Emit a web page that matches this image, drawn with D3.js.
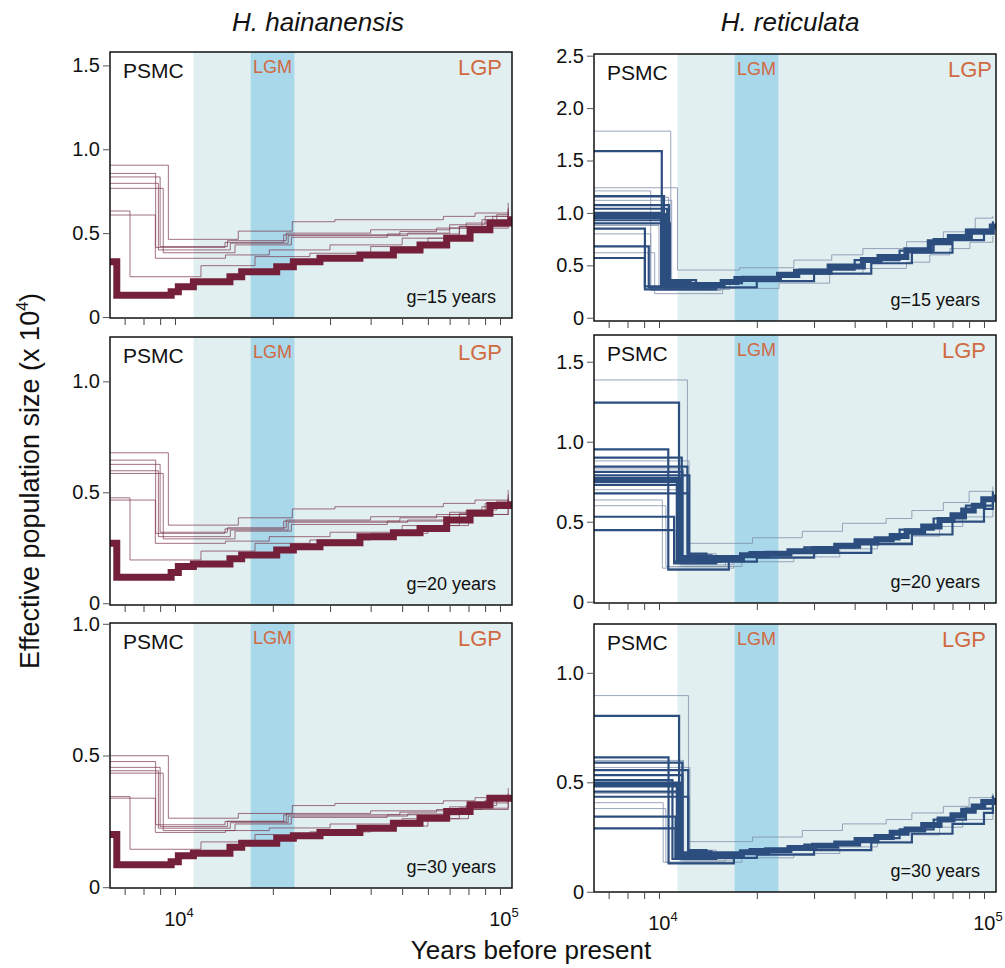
<!DOCTYPE html>
<html>
<head>
<meta charset="utf-8">
<script src="https://cdnjs.cloudflare.com/ajax/libs/d3/7.8.5/d3.min.js"></script>
<style>
  body { margin: 0; background: #fff; }
  svg text { font-family: "Liberation Sans", Arial, Helvetica, sans-serif; }
</style>
</head>
<body>
<svg id="chart" width="1005" height="968"></svg>
<script>
// ---- data (years before present, Ne in units of 10^4) ----
var speciesNames = ["H. hainanensis", "H. reticulata"];
var genTimes = [15, 20, 30];
var xTickYears = [7000, 8000, 9000, 10000, 20000, 30000, 40000, 50000, 60000, 70000, 80000, 90000, 100000];
var lgpStart = 11400, lgmStart = 17100, lgmEnd = 23300;

// H. hainanensis: main (overlapping) bundle
var hainBundleYears = [6300, 6620, 9730, 10240, 11390, 14760, 16040, 20560, 23130, 27930, 37070, 46990, 56750, 68550, 80900, 93100, 108000];
var hainBundle15 = [0.33, 0.13, 0.15, 0.18, 0.21, 0.24, 0.27, 0.30, 0.33, 0.35, 0.37, 0.40, 0.43, 0.47, 0.52, 0.56, 0.60];
var hainBundle20 = [0.27, 0.117, 0.138, 0.165, 0.177, 0.20, 0.217, 0.24, 0.255, 0.273, 0.30, 0.318, 0.337, 0.375, 0.405, 0.44, 0.46];
var hainBundle30 = [0.20, 0.085, 0.097, 0.119, 0.129, 0.152, 0.167, 0.186, 0.195, 0.208, 0.224, 0.243, 0.262, 0.287, 0.313, 0.338, 0.35];

// H. hainanensis: bootstrap lines that leave the bundle
var hainBootYears = [
  [6250, 9540, 15660, 22960, 31040, 66950, 83800, 106000],
  [6250, 8720, 14250, 21600, 49200, 63800, 78700, 97700, 106000],
  [6250, 8890, 14800, 22300, 52000, 70000, 88000, 106000],
  [6250, 9200, 15300, 22800, 45000, 75000, 95000, 106000],
  [6250, 7270, 12020, 17630, 26000, 40000, 60000, 80000, 106000],
  [6250, 8700, 14300, 19500, 30000, 50000, 75000, 106000],
  [6250, 9000, 14500, 22000, 40000, 70000, 90000, 106000]
];
var hainBoot15 = [
  [0.905, 0.463, 0.512, 0.568, 0.58, 0.60, 0.62, 0.68],
  [0.856, 0.415, 0.445, 0.49, 0.51, 0.53, 0.56, 0.61, 0.64],
  [0.797, 0.40, 0.44, 0.485, 0.50, 0.53, 0.58, 0.63],
  [0.767, 0.383, 0.43, 0.475, 0.495, 0.54, 0.60, 0.62],
  [0.632, 0.24, 0.306, 0.36, 0.38, 0.42, 0.47, 0.53, 0.60],
  [0.608, 0.35, 0.37, 0.40, 0.43, 0.47, 0.54, 0.62],
  [0.835, 0.42, 0.455, 0.50, 0.52, 0.55, 0.60, 0.65]
];
var hainBoot20 = [
  [0.678, 0.352, 0.385, 0.425, 0.435, 0.45, 0.465, 0.51],
  [0.645, 0.315, 0.335, 0.37, 0.385, 0.40, 0.42, 0.46, 0.48],
  [0.597, 0.30, 0.33, 0.365, 0.375, 0.40, 0.435, 0.47],
  [0.585, 0.29, 0.325, 0.355, 0.37, 0.405, 0.45, 0.465],
  [0.475, 0.195, 0.235, 0.27, 0.285, 0.315, 0.35, 0.40, 0.45],
  [0.465, 0.27, 0.28, 0.30, 0.32, 0.35, 0.40, 0.46],
  [0.626, 0.32, 0.34, 0.375, 0.39, 0.41, 0.45, 0.49]
];
var hainBoot30 = [
  [0.499, 0.262, 0.28, 0.31, 0.318, 0.328, 0.34, 0.376],
  [0.477, 0.237, 0.25, 0.275, 0.285, 0.295, 0.31, 0.335, 0.352],
  [0.442, 0.224, 0.245, 0.27, 0.278, 0.295, 0.32, 0.348],
  [0.433, 0.215, 0.24, 0.265, 0.275, 0.30, 0.33, 0.345],
  [0.344, 0.144, 0.172, 0.20, 0.21, 0.232, 0.26, 0.295, 0.335],
  [0.338, 0.208, 0.215, 0.225, 0.24, 0.26, 0.30, 0.345],
  [0.455, 0.23, 0.25, 0.28, 0.29, 0.305, 0.33, 0.355]
];

// H. reticulata: main bundle
var retiBundleYears15 = [6200, 10400, 15700, 17300, 23400, 26400, 33500, 42400, 47700, 57700, 68100, 78500, 90500, 105700, 108500];
var retiBundle15 = [0.97, 0.31, 0.34, 0.37, 0.41, 0.44, 0.49, 0.55, 0.58, 0.645, 0.72, 0.77, 0.82, 0.87, 0.90];
var retiBundleYears20 = [6200, 11500, 18000, 21500, 25200, 30000, 35100, 41000, 46700, 52000, 57800, 65000, 73000, 80000, 86300, 93000, 99500, 108500];
var retiBundle20 = [0.76, 0.265, 0.29, 0.30, 0.315, 0.33, 0.35, 0.37, 0.39, 0.41, 0.44, 0.47, 0.51, 0.54, 0.57, 0.60, 0.64, 0.67];
var retiBundleYears30 = [6200, 11500, 18000, 21500, 25200, 30000, 35100, 41000, 46700, 52000, 57800, 65000, 73000, 80000, 86300, 93000, 99500, 108500];
var retiBundle30 = [0.49, 0.165, 0.18, 0.19, 0.20, 0.21, 0.22, 0.235, 0.25, 0.27, 0.285, 0.305, 0.33, 0.35, 0.37, 0.39, 0.41, 0.43];

// H. reticulata: strong bootstrap lines ([year, Ne] steps)
var retiMain15 = [
  [[6200, 1.59], [10200, 0.30], [12500, 0.31]],
  [[6200, 1.16], [10360, 0.33], [11500, 0.31]],
  [[6200, 1.075], [10730, 0.32], [12000, 0.31]],
  [[6200, 1.04], [10600, 0.34], [12500, 0.31]],
  [[6200, 1.0], [10150, 0.30], [12000, 0.31]],
  [[6200, 0.93], [10300, 0.31], [12000, 0.31]],
  [[6200, 0.90], [10800, 0.36], [13000, 0.31]],
  [[6200, 0.85], [9050, 0.30], [13500, 0.31]],
  [[6200, 0.68], [9300, 0.29], [14000, 0.31]],
  [[6200, 0.57], [9050, 0.27], [15000, 0.31]],
  [[12000, 0.29], [20000, 0.35], [30000, 0.42], [45000, 0.52], [60000, 0.62], [80000, 0.74], [100000, 0.82], [106500, 0.85]],
  [[12000, 0.33], [18000, 0.39], [27000, 0.46], [40000, 0.55], [55000, 0.64], [70000, 0.75], [88000, 0.84], [106500, 0.92]]
];
var retiFaint15 = [
  [[6200, 1.78], [10870, 0.27], [16500, 0.34]],
  [[6200, 1.21], [9430, 0.26], [15500, 0.34]],
  [[6200, 1.15], [10700, 0.30], [14000, 0.32]],
  [[6200, 1.12], [10940, 0.35], [13000, 0.32]],
  [[6200, 0.80], [9430, 0.28], [14500, 0.31]],
  [[6200, 0.88], [10000, 0.29], [14000, 0.31]],
  [[6200, 1.24], [11400, 0.455], [17700, 0.477], [26000, 0.55], [34000, 0.60], [42400, 0.66], [57800, 0.725], [75000, 0.82], [94000, 0.95], [106500, 0.97]],
  [[6200, 0.62], [9700, 0.23], [15700, 0.28], [23400, 0.33], [33500, 0.42], [42400, 0.47], [57700, 0.53], [68100, 0.60], [78500, 0.66], [90500, 0.72], [106500, 0.78]]
];
var retiMain20 = [
  [[6200, 1.244], [11525, 0.27], [14000, 0.27]],
  [[6200, 0.90], [11750, 0.28], [13000, 0.27]],
  [[6200, 0.844], [12230, 0.30], [14000, 0.27]],
  [[6200, 0.812], [11800, 0.285], [13000, 0.27]],
  [[6200, 0.79], [12400, 0.28], [13500, 0.27]],
  [[6200, 0.73], [11600, 0.26], [13500, 0.27]],
  [[6200, 0.677], [12300, 0.29], [14500, 0.27]],
  [[6200, 0.531], [11130, 0.24], [15000, 0.27]],
  [[6200, 0.448], [11130, 0.25], [15500, 0.27]],
  [[6200, 0.952], [10680, 0.20], [16400, 0.27]],
  [[13000, 0.25], [20000, 0.275], [30000, 0.305], [45000, 0.36], [60000, 0.42], [80000, 0.50], [100000, 0.58], [106500, 0.62]],
  [[13000, 0.285], [19000, 0.31], [28000, 0.34], [40000, 0.39], [55000, 0.45], [70000, 0.52], [88000, 0.60], [106500, 0.69]]
];
var retiFaint20 = [
  [[6200, 1.386], [12230, 0.365], [19400, 0.40], [27600, 0.44], [36700, 0.49], [50000, 0.52], [60000, 0.57], [75000, 0.62], [90000, 0.69], [106500, 0.72]],
  [[6200, 0.88], [12380, 0.30], [15000, 0.28]],
  [[6200, 0.636], [10240, 0.21], [17000, 0.28]],
  [[6200, 0.83], [11900, 0.23], [16800, 0.28]],
  [[6200, 0.70], [11700, 0.22], [16000, 0.28]],
  [[6200, 0.60], [10500, 0.22], [18000, 0.25], [26000, 0.28], [36000, 0.33], [47000, 0.37], [60000, 0.41], [73000, 0.47], [86000, 0.53], [106500, 0.60]]
];
var retiMain30 = [
  [[6200, 0.803], [11530, 0.165], [14000, 0.165]],
  [[6200, 0.59], [11800, 0.18], [13000, 0.165]],
  [[6200, 0.556], [12300, 0.19], [14000, 0.165]],
  [[6200, 0.533], [11800, 0.175], [13000, 0.165]],
  [[6200, 0.51], [11000, 0.15], [14000, 0.165]],
  [[6200, 0.457], [11600, 0.16], [13500, 0.165]],
  [[6200, 0.434], [12300, 0.185], [14500, 0.165]],
  [[6200, 0.343], [11250, 0.15], [15000, 0.165]],
  [[6200, 0.29], [11250, 0.155], [15500, 0.165]],
  [[6200, 0.614], [10700, 0.13], [17000, 0.17]],
  [[13000, 0.155], [20000, 0.17], [30000, 0.19], [45000, 0.225], [60000, 0.265], [80000, 0.31], [100000, 0.36], [106500, 0.39]],
  [[13000, 0.18], [19000, 0.195], [28000, 0.215], [40000, 0.245], [55000, 0.285], [70000, 0.33], [88000, 0.38], [106500, 0.44]]
];
var retiFaint30 = [
  [[6200, 0.896], [12320, 0.229], [19400, 0.25], [27600, 0.28], [36700, 0.31], [50000, 0.33], [60000, 0.36], [75000, 0.39], [90000, 0.43], [106500, 0.45]],
  [[6200, 0.568], [12450, 0.19], [15000, 0.17]],
  [[6200, 0.407], [10300, 0.135], [17000, 0.17]],
  [[6200, 0.60], [11900, 0.145], [16800, 0.17]],
  [[6200, 0.45], [11700, 0.14], [16000, 0.17]],
  [[6200, 0.38], [10500, 0.135], [18000, 0.155], [26000, 0.175], [36000, 0.205], [47000, 0.23], [60000, 0.26], [73000, 0.295], [86000, 0.33], [106500, 0.37]]
];

// ---- layout ----
var svg = d3.select("#chart");
var pw = 402;
var maroon = "#75203a", navy = "#2c4e7f";

// turn year/value arrays into [year, value] pairs
function zipSteps(years, vals) {
  return years.map(function(t, i) { return [t, vals[i]]; });
}

var panels = [
  {x: 110, y: 52, h: 266, ymin: -0.006, ymax: 1.58, ticks: [0, 0.5, 1.0, 1.5], row: 0, col: 0,
   bundle: zipSteps(hainBundleYears, hainBundle15), main: [], faint: hainBootYears.map(function(t, i) { return zipSteps(t, hainBoot15[i]); })},
  {x: 594, y: 54, h: 267, ymin: -0.031, ymax: 2.516, ticks: [0, 0.5, 1.0, 1.5, 2.0, 2.5], row: 0, col: 1,
   bundle: zipSteps(retiBundleYears15, retiBundle15), main: retiMain15, faint: retiFaint15},
  {x: 110, y: 337, h: 268, ymin: -0.008, ymax: 1.2, ticks: [0, 0.5, 1.0], row: 1, col: 0,
   bundle: zipSteps(hainBundleYears, hainBundle20), main: [], faint: hainBootYears.map(function(t, i) { return zipSteps(t, hainBoot20[i]); })},
  {x: 594, y: 335, h: 268, ymin: -0.008, ymax: 1.667, ticks: [0, 0.5, 1.0, 1.5], row: 1, col: 1,
   bundle: zipSteps(retiBundleYears20, retiBundle20), main: retiMain20, faint: retiFaint20},
  {x: 110, y: 623, h: 265, ymin: -0.003, ymax: 1.003, ticks: [0, 0.5, 1.0], row: 2, col: 0,
   bundle: zipSteps(hainBundleYears, hainBundle30), main: [], faint: hainBootYears.map(function(t, i) { return zipSteps(t, hainBoot30[i]); })},
  {x: 594, y: 624, h: 268, ymin: -0.001, ymax: 1.223, ticks: [0, 0.5, 1.0], row: 2, col: 1,
   bundle: zipSteps(retiBundleYears30, retiBundle30), main: retiMain30, faint: retiFaint30}
];

var xScale = d3.scaleLog().domain([Math.pow(10, 3.8), Math.pow(10, 5.037)]).range([0, pw]);

panels.forEach(function(p, i) {
  var g = svg.append("g").attr("transform", "translate(" + p.x + "," + p.y + ")");
  var yScale = d3.scaleLinear().domain([p.ymin, p.ymax]).range([p.h, 0]);
  var color = p.col === 0 ? maroon : navy;

  g.append("clipPath").attr("id", "clip" + i)
    .append("rect").attr("width", pw).attr("height", p.h);

  // period shading
  g.append("rect")
    .attr("x", xScale(lgpStart)).attr("y", 0)
    .attr("width", pw - xScale(lgpStart)).attr("height", p.h)
    .style("fill", "#e2eff0");
  g.append("rect")
    .attr("x", xScale(lgmStart)).attr("y", 0)
    .attr("width", xScale(lgmEnd) - xScale(lgmStart)).attr("height", p.h)
    .style("fill", "#a9d8ea");

  var line = d3.line()
    .x(function(d) { return xScale(d[0]); })
    .y(function(d) { return yScale(d[1]); })
    .curve(d3.curveStepAfter);

  var plot = g.append("g").attr("clip-path", "url(#clip" + i + ")");

  plot.selectAll(".faint")
    .data(p.faint)
    .enter().append("path")
    .attr("class", "faint")
    .attr("d", line)
    .style("fill", "none")
    .style("stroke", p.col === 0 ? "#7a344b" : "#7f90ad")
    .style("stroke-opacity", p.col === 0 ? 0.7 : 0.8)
    .style("stroke-width", 1);

  plot.selectAll(".main")
    .data(p.main)
    .enter().append("path")
    .attr("class", "main")
    .attr("d", line)
    .style("fill", "none")
    .style("stroke", color)
    .style("stroke-width", 2.2);

  plot.append("path")
    .datum(p.bundle)
    .attr("d", line)
    .style("fill", "none")
    .style("stroke", color)
    .style("stroke-width", p.col === 0 ? 7 : 6);

  // frame
  g.append("rect")
    .attr("width", pw).attr("height", p.h)
    .style("fill", "none").style("stroke", "#111").style("stroke-width", 1.5);

  // y axis
  var yAxis = g.append("g")
    .call(d3.axisLeft(yScale)
      .tickValues(p.ticks)
      .tickSize(7)
      .tickPadding(3)
      .tickFormat(function(d) { return d === 0 ? "0" : d3.format(".1f")(d); }));
  yAxis.select(".domain").remove();
  yAxis.selectAll("line").style("stroke", "#555");
  yAxis.selectAll("text").style("font-size", "20px").style("fill", "#111")
    .style("font-family", "'Liberation Sans', Arial, sans-serif");

  // x axis ticks
  var xAxis = g.append("g")
    .attr("transform", "translate(0," + (p.h + 1) + ")")
    .call(d3.axisBottom(xScale).tickValues(xTickYears).tickSize(6).tickFormat(""));
  xAxis.select(".domain").remove();
  xAxis.selectAll("line").style("stroke", "#444");

  if (p.row === 2) {
    [10000, 100000].forEach(function(t, k) {
      var lab = g.append("text")
        .attr("x", xScale(t) + 4).attr("y", p.h + 38)
        .attr("text-anchor", "middle")
        .style("font-size", "20px").style("fill", "#111")
        .text("10");
      lab.append("tspan").attr("dy", -9).style("font-size", "13px").text(k === 0 ? "4" : "5");
    });
  }

  // labels inside panel
  g.append("text").attr("x", 13).attr("y", 26)
    .style("font-size", "21px").style("fill", "#111").text("PSMC");
  g.append("text").attr("x", (xScale(lgmStart) + xScale(lgmEnd)) / 2).attr("y", 21)
    .attr("text-anchor", "middle")
    .style("font-size", "18px").style("fill", "#d06a42").text("LGM");
  g.append("text").attr("x", pw - (p.col === 1 && p.row === 0 ? 4 : 10)).attr("y", 23)
    .attr("text-anchor", "end")
    .style("font-size", "22px").style("fill", "#d06a42").text("LGP");
  g.append("text").attr("x", pw - 16).attr("y", p.h - 15)
    .attr("text-anchor", "end")
    .style("font-size", "18px").style("fill", "#111").text("g=" + genTimes[p.row] + " years");
});

// titles
svg.selectAll(".title")
  .data(speciesNames)
  .enter().append("text")
  .attr("class", "title")
  .attr("x", function(d, i) { return i === 0 ? 318 : 790; })
  .attr("y", 31)
  .attr("text-anchor", "middle")
  .style("font-size", "26px").style("font-style", "italic").style("fill", "#111")
  .text(function(d) { return d; });

// axis titles
var yl = svg.append("text")
  .attr("transform", "translate(39,481) rotate(-90)")
  .attr("text-anchor", "middle")
  .style("font-size", "27px").style("fill", "#111")
  .text("Effective population size (x 10");
yl.append("tspan").attr("dy", -11).style("font-size", "16px").text("4");
yl.append("tspan").attr("dy", 11).text(")");

svg.append("text")
  .attr("x", 531).attr("y", 959)
  .attr("text-anchor", "middle")
  .style("font-size", "26px").style("fill", "#111")
  .text("Years before present");
</script>
</body>
</html>
